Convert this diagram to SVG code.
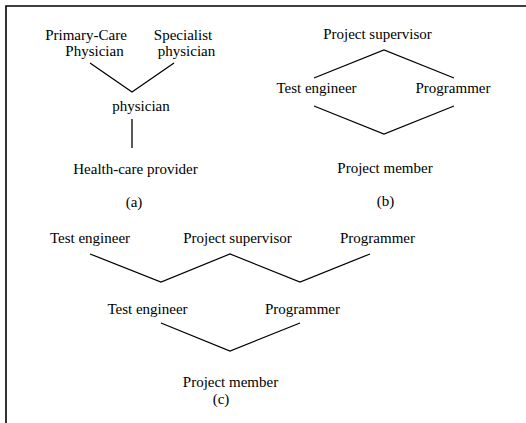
<svg xmlns="http://www.w3.org/2000/svg" width="526" height="423" viewBox="0 0 526 423" font-family="'Liberation Serif', 'Times New Roman', serif">
<style>
text{font-family:'Liberation Serif','Times New Roman',serif;font-size:15px;fill:#000;text-anchor:middle}
.ln{fill:none;stroke:#000;stroke-width:1.3}
.fr{fill:none;stroke:#000;stroke-width:1.6}
</style>
<rect width="526" height="423" fill="#fff"/>
<path class="fr" d="M6,423 V6 H526"/>
<g id="a-primary"><text x="86" y="39.5">Primary-Care</text><text x="94.5" y="56">Physician</text></g>
<g id="a-specialist"><text x="183" y="39.5">Specialist</text><text x="186.5" y="56">physician</text></g>
<g id="a-physician"><text x="141" y="111">physician</text></g>
<g id="a-provider"><text x="135.5" y="174">Health-care provider</text></g>
<text x="134" y="207">(a)</text>
<g id="b-supervisor"><text x="377.5" y="39">Project supervisor</text></g>
<g id="b-test"><text x="316.5" y="93">Test engineer</text></g>
<g id="b-programmer"><text x="453" y="93">Programmer</text></g>
<g id="b-member"><text x="385" y="173">Project member</text></g>
<text x="385.5" y="206">(b)</text>
<g id="c-test1"><text x="90" y="243">Test engineer</text></g>
<g id="c-supervisor"><text x="237.5" y="243">Project supervisor</text></g>
<g id="c-programmer1"><text x="377.5" y="243">Programmer</text></g>
<g id="c-test2"><text x="147.5" y="314">Test engineer</text></g>
<g id="c-programmer2"><text x="302.5" y="314">Programmer</text></g>
<g id="c-member"><text x="230.5" y="387">Project member</text></g>
<text x="221" y="404">(c)</text>
<g id="connectors">
<polyline class="ln" points="90,63 132,92 174,63"/>
<line class="ln" x1="132" y1="119" x2="132" y2="148"/>
<polyline class="ln" points="314,78 384,50 454,78"/>
<polyline class="ln" points="314,106 384,134 454,106"/>
<polyline class="ln" points="90,254 161,282 230,254 300,282 370,254"/>
<polyline class="ln" points="161,323 230,351 300,323"/>
</g>
</svg>
